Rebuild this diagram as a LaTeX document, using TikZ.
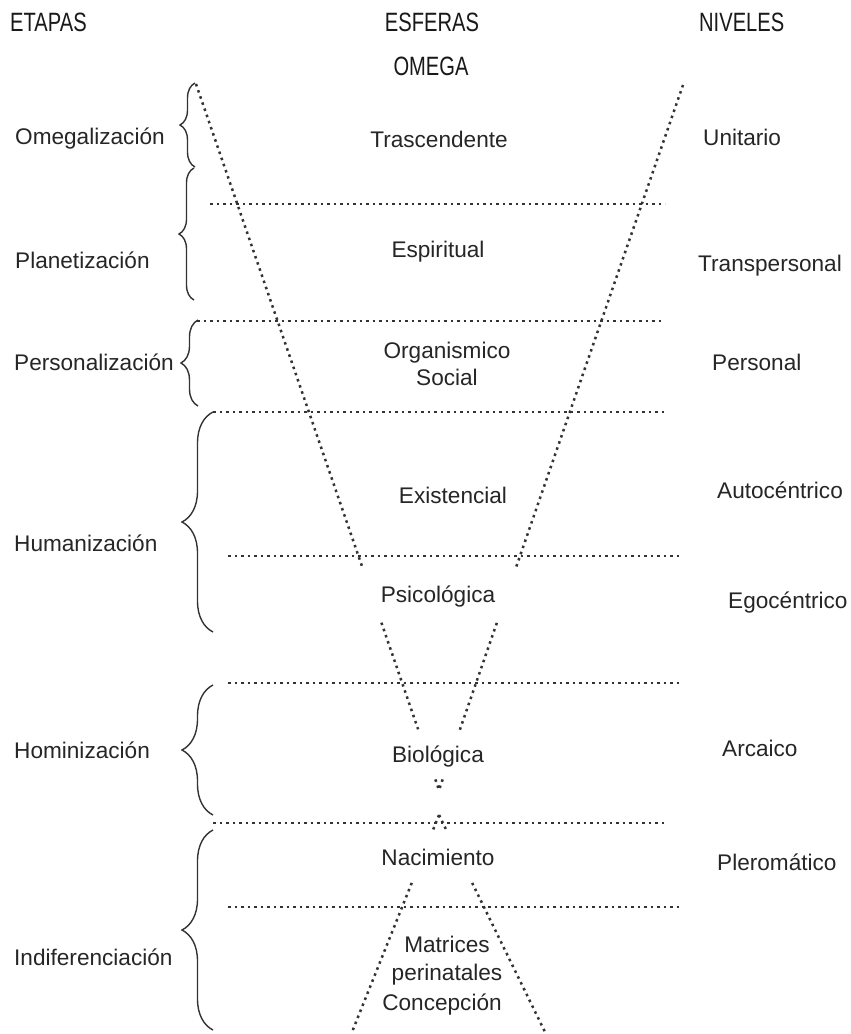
\documentclass[tikz,border=0pt]{standalone}
\usepackage{fontspec}
\setmainfont{Liberation Sans}
\newfontfamily\narrowfont[FakeStretch=0.76]{Liberation Sans}
\usetikzlibrary{decorations.pathreplacing,calc}
\begin{document}
\begin{tikzpicture}[x=1pt,y=-1pt,
  lbl/.style={inner sep=0pt, text=black!85, font=\fontsize{22.6}{27}\selectfont},
  hdr/.style={inner sep=0pt, text=black!90, font=\narrowfont\fontsize{26.5}{30}\selectfont},
  dotline/.style={draw=black!80, line width=2.5pt, dash pattern=on 2.5pt off 4pt},
  bracestyle/.style={draw=black!80, line width=1.4pt, decorate, decoration={brace, amplitude=#1}},
]
\useasboundingbox[fill=white] (0,0) rectangle (851,1034);

% headers
\node[hdr, anchor=base west] (hEt) at (10,31) {ETAPAS};
\node[hdr, anchor=base] (hEs) at (432,31) {ESFERAS};
\node[hdr, anchor=base west] (hNi) at (699,31) {NIVELES};
\node[hdr, anchor=base] (hOm) at (431,75) {OMEGA};

% funnel lines
\coordinate (LT) at (196,84);
\coordinate (RT) at (683,85);
\coordinate (A1) at (439,790);
\coordinate (A2) at (439,815);
\coordinate (LB) at (352,1032);
\coordinate (RB) at (545,1032);

\draw[dotline] (LT) -- ($(LT)!0.684!(A1)$);
\draw[dotline] ($(LT)!0.763!(A1)$) -- ($(LT)!0.914!(A1)$);
\draw[dotline] ($(LT)!0.985!(A1)$) -- (A1);
\draw[dotline] (RT) -- ($(RT)!0.684!(A1)$);
\draw[dotline] ($(RT)!0.763!(A1)$) -- ($(RT)!0.915!(A1)$);
\draw[dotline] ($(RT)!0.985!(A1)$) -- (A1);

\draw[dotline] (A2) -- ($(A2)!0.07!(LB)$);
\draw[dotline] ($(A2)!0.313!(LB)$) -- (LB);
\draw[dotline] (A2) -- ($(A2)!0.07!(RB)$);
\draw[dotline] ($(A2)!0.313!(RB)$) -- (RB);

% horizontal separators
\coordinate (h1a) at (210,204); \coordinate (h1b) at (665,204);
\coordinate (h2a) at (197,321); \coordinate (h2b) at (663,321);
\coordinate (h3a) at (213,412); \coordinate (h3b) at (665,412);
\coordinate (h4a) at (228,556); \coordinate (h4b) at (682,556);
\coordinate (h5a) at (228,683); \coordinate (h5b) at (682,683);
\coordinate (h6a) at (213,823); \coordinate (h6b) at (665,823);
\coordinate (h7a) at (228,907); \coordinate (h7b) at (682,907);
\foreach \i in {1,...,7} { \draw[dotline] (h\i a) -- (h\i b); }

% braces
\coordinate (b1t) at (195,83);  \coordinate (b1b) at (195,167);
\coordinate (b2t) at (194,168); \coordinate (b2b) at (194,300);
\coordinate (b3t) at (198,320); \coordinate (b3b) at (198,406);
\coordinate (b4t) at (213,412); \coordinate (b4b) at (213,632);
\coordinate (b5t) at (213,685); \coordinate (b5b) at (213,815);
\coordinate (b6t) at (213,830); \coordinate (b6b) at (213,1030);
\draw[bracestyle=15] (b1b) -- (b1t);
\draw[bracestyle=15] (b2b) -- (b2t);
\draw[bracestyle=17] (b3b) -- (b3t);
\draw[bracestyle=31] (b4b) -- (b4t);
\draw[bracestyle=31] (b5b) -- (b5t);
\draw[bracestyle=31] (b6b) -- (b6t);

% stages
\node[lbl, anchor=base west] (e1) at (15,144) {Omegalización};
\node[lbl, anchor=base west] (e2) at (15,268) {Planetización};
\node[lbl, anchor=base west] (e3) at (14,370) {Personalización};
\node[lbl, anchor=base west] (e4) at (14,551) {Humanización};
\node[lbl, anchor=base west] (e5) at (14,758) {Hominización};
\node[lbl, anchor=base west] (e6) at (14,965) {Indiferenciación};

% spheres
\node[lbl, anchor=base] (s1) at (439,147) {Trascendente};
\node[lbl, anchor=base] (s2) at (438,257) {Espiritual};
\node[lbl, anchor=base] (s3a) at (447,358) {Organismico};
\node[lbl, anchor=base] (s3b) at (447,385) {Social};
\node[lbl, anchor=base] (s4) at (453,503) {Existencial};
\node[lbl, anchor=base] (s5) at (438,602) {Psicológica};
\node[lbl, anchor=base] (s6) at (438,762) {Biológica};
\node[lbl, anchor=base] (s7) at (438,865) {Nacimiento};
\node[lbl, anchor=base] (s8a) at (447,952) {Matrices};
\node[lbl, anchor=base] (s8b) at (447,980) {perinatales};
\node[lbl, anchor=base] (s8c) at (442,1010) {Concepción};

% levels
\node[lbl, anchor=base west] (n1) at (703,145) {Unitario};
\node[lbl, anchor=base west] (n2) at (698,271) {Transpersonal};
\node[lbl, anchor=base west] (n3) at (712,370) {Personal};
\node[lbl, anchor=base west] (n4) at (717,498) {Autocéntrico};
\node[lbl, anchor=base west] (n5) at (728,608) {Egocéntrico};
\node[lbl, anchor=base west] (n6) at (722,756) {Arcaico};
\node[lbl, anchor=base west] (n7) at (717,870) {Pleromático};
\end{tikzpicture}
\end{document}
